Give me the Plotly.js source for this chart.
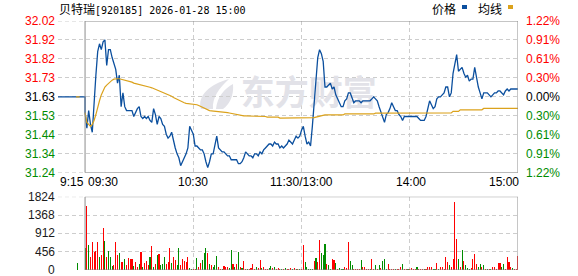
<!DOCTYPE html>
<html><head><meta charset="utf-8">
<script src="https://cdn.plot.ly/plotly-3.0.1.min.js"></script>
<style>html,body{margin:0;padding:0;background:#fff;}#chart{width:578px;height:276px;}</style>
</head><body><div id="chart"></div>
<script>
// ---------- data ----------
const titleName = '贝特瑞';
const titleCode = '[920185] 2026-01-28 15:00';
const legendPrice = '价格';
const legendAvg = '均线';
const watermarkText = '东方财富';
const prevClose = 31.63;
const maxPct = 1.22;
const priceTickLabels = ['32.02','31.92','31.82','31.73','31.63','31.53','31.44','31.34','31.24'];
const pctTickLabels = ['1.22%','0.91%','0.61%','0.30%','0.00%','0.30%','0.61%','0.91%','1.22%'];
const volTickVals = [0,456,912,1368,1824];
const volTickLabels = ['0','456','912','1368','1824'];
const timeTickLabels = ['9:15','09:30','10:30','11:30/13:00','14:00','15:00'];
const timeTickMinutes = [0,15,75,135,195,255];   // minutes after 9:15 on the compressed session axis
const preMinutes = [0,15];
const prePrice = [31.63,31.63];
const preAvgMinutes = [10,12];
const preAvg = [31.63,31.63];
const preVolMinutes = [11];
const preVolume = [166];
const preVolDir = [-1];
const sessionStart = 15; // 09:30 on the axis
const price = [
31.55,31.47,31.56,31.49,31.45,31.63,31.74,31.86,31.90,31.87,
31.91,31.92,31.79,31.87,31.87,31.83,31.80,31.77,31.70,31.74,
31.58,31.65,31.58,31.56,31.56,31.56,31.56,31.53,31.55,31.57,
31.58,31.53,31.52,31.53,31.52,31.53,31.51,31.50,31.57,31.54,
31.49,31.53,31.52,31.49,31.48,31.44,31.42,31.43,31.45,31.40,
31.37,31.34,31.32,31.28,31.30,31.32,31.34,31.37,31.48,31.46,
31.44,31.38,31.38,31.37,31.36,31.36,31.34,31.30,31.27,31.30,
31.34,31.34,31.38,31.43,31.37,31.36,31.35,31.35,31.34,31.33,
31.33,31.31,31.31,31.31,31.31,31.29,31.29,31.30,31.32,31.35,
31.34,31.33,31.33,31.32,31.34,31.34,31.33,31.35,31.34,31.36,
31.37,31.38,31.39,31.39,31.38,31.40,31.39,31.39,31.37,31.38,
31.37,31.38,31.39,31.41,31.40,31.39,31.41,31.43,31.42,31.43,
31.46,31.48,31.43,31.39,31.40,31.38,31.48,31.60,31.72,31.83,
31.87,31.85,31.81,31.68,31.68,31.69,31.70,31.67,31.68,31.64,
31.62,31.60,31.58,31.58,31.61,31.62,31.65,31.65,31.62,31.60,
31.61,31.61,31.61,31.60,31.61,31.61,31.61,31.61,31.61,31.62,
31.63,31.62,31.61,31.58,31.55,31.52,31.50,31.54,31.55,31.57,
31.60,31.58,31.56,31.56,31.54,31.53,31.51,31.53,31.53,31.53,
31.53,31.53,31.53,31.53,31.53,31.52,31.51,31.51,31.51,31.53,
31.57,31.61,31.59,31.57,31.58,31.62,31.63,31.63,31.64,31.65,
31.68,31.68,31.63,31.65,31.75,31.80,31.845,31.76,31.77,31.78,
31.75,31.73,31.74,31.71,31.72,31.72,31.78,31.72,31.68,31.65,
31.62,31.65,31.65,31.65,31.64,31.63,31.64,31.65,31.65,31.66,
31.66,31.65,31.64,31.66,31.67,31.66,31.67,31.67,31.67,31.67,
31.67];
const avgPrice = [
31.55,31.50,31.49,31.48,31.49,31.51,31.54,31.58,31.61,31.64,
31.66,31.68,31.69,31.70,31.71,31.715,31.72,31.722,31.722,31.722,
31.72,31.718,31.715,31.712,31.71,31.708,31.705,31.70,31.698,31.696,
31.693,31.69,31.688,31.686,31.684,31.681,31.679,31.676,31.672,31.668,
31.664,31.662,31.66,31.656,31.652,31.648,31.643,31.638,31.633,31.627,
31.622,31.617,31.612,31.607,31.603,31.60,31.597,31.596,31.595,31.594,
31.593,31.592,31.59,31.586,31.582,31.578,31.572,31.566,31.562,31.56,
31.559,31.558,31.558,31.557,31.556,31.556,31.555,31.555,31.552,31.55,
31.548,31.546,31.543,31.541,31.539,31.537,31.535,31.533,31.533,31.533,
31.533,31.533,31.533,31.533,31.533,31.53,31.53,31.53,31.53,31.53,
31.53,31.527,31.527,31.527,31.527,31.527,31.527,31.527,31.522,31.522,
31.522,31.522,31.522,31.522,31.522,31.522,31.522,31.522,31.522,31.522,
31.522,31.522,31.522,31.521,31.521,31.521,31.521,31.524,31.527,31.530,
31.533,31.535,31.538,31.538,31.538,31.538,31.538,31.538,31.538,31.538,
31.538,31.538,31.538,31.538,31.543,31.543,31.543,31.543,31.543,31.543,
31.543,31.543,31.543,31.543,31.543,31.543,31.543,31.543,31.543,31.543,
31.543,31.547,31.547,31.547,31.547,31.547,31.547,31.547,31.547,31.547,
31.547,31.547,31.547,31.547,31.547,31.547,31.547,31.547,31.547,31.547,
31.547,31.545,31.545,31.545,31.545,31.545,31.545,31.545,31.545,31.545,
31.545,31.548,31.548,31.548,31.548,31.548,31.548,31.548,31.548,31.548,
31.548,31.548,31.548,31.548,31.556,31.556,31.556,31.556,31.564,31.564,
31.564,31.564,31.564,31.564,31.564,31.564,31.564,31.564,31.564,31.564,
31.564,31.571,31.571,31.571,31.571,31.571,31.571,31.571,31.571,31.571,
31.571,31.571,31.571,31.571,31.571,31.571,31.571,31.571,31.571,31.571,
31.571];
const volume = [
540,1594,622,315,705,456,481,705,315,373,
1037,730,315,473,315,100,124,705,373,415,
207,207,266,124,290,266,266,100,207,83,
141,448,83,166,232,116,332,598,66,141,
373,398,124,141,315,141,207,548,166,315,
249,124,548,116,266,232,207,315,58,33,
33,33,290,83,166,249,415,540,432,149,
124,66,133,349,66,33,33,100,66,83,
58,498,149,83,149,448,66,41,232,33,
33,33,58,149,33,83,41,249,41,66,
33,33,41,100,41,66,33,41,33,33,
33,50,33,33,50,33,50,33,33,33,
33,622,199,66,33,33,33,232,290,199,
747,432,373,647,149,124,33,266,249,174,
33,50,33,33,83,41,705,224,124,33,
33,33,33,249,83,83,33,33,33,266,
33,124,33,124,41,224,266,33,149,33,
33,33,33,33,33,66,149,33,33,33,
33,41,33,33,66,33,33,33,33,33,
66,66,66,33,33,183,33,83,66,33,
315,199,124,66,266,1693,764,266,66,498,
232,124,50,33,41,266,390,141,66,141,
83,124,33,33,33,33,66,66,33,183,
183,83,149,33,315,207,83,50,33,33,
349];
const volDir = [
-1,1,-1,1,1,1,1,1,-1,1,
1,-1,1,-1,-1,-1,1,1,1,-1,
1,1,-1,1,1,1,1,-1,1,1,
-1,1,-1,1,1,1,-1,1,-1,1,
-1,1,-1,-1,-1,1,1,1,-1,1,
1,-1,-1,1,1,1,1,1,-1,-1,
1,1,-1,1,1,-1,-1,-1,1,-1,
1,-1,-1,-1,1,1,-1,1,1,1,
-1,-1,1,-1,1,-1,1,-1,1,1,
-1,1,1,1,1,-1,1,1,-1,1,
1,1,-1,-1,1,-1,1,1,1,-1,
1,-1,1,1,1,-1,1,-1,1,-1,
1,1,-1,-1,-1,-1,-1,1,-1,1,
1,-1,-1,-1,1,-1,-1,1,1,-1,
1,-1,-1,-1,1,1,1,-1,-1,1,
1,1,1,-1,1,1,1,1,-1,1,
1,-1,1,-1,1,-1,-1,-1,1,1,
1,1,-1,1,1,1,-1,1,1,-1,
1,1,1,1,-1,1,1,1,-1,1,
1,1,1,-1,-1,1,-1,1,1,1,
1,1,-1,1,1,1,1,-1,1,-1,
1,-1,-1,-1,1,1,1,1,-1,-1,
1,-1,1,-1,1,-1,1,1,1,1,
1,-1,-1,1,1,1,1,-1,1,1,
1];

// ---------- geometry / style ----------
const W = 578, H = 276, ML = 58, MR = 60, MT = 21, MB = 6;
const PW = W - ML - MR, PH = H - MT - MB;
const px2x = p => (p - ML) / PW;
const px2y = p => (H - MB - p) / PH;
const UP = '#ff0000', DOWN = '#008c00', FLAT = '#000000';
const GRID = '#cdcdcd', BORDER = '#8c8c8c';
const NUMFONT = 'Arial, "Liberation Sans", sans-serif';
const CJKFONT = '"Noto Sans CJK SC", "Noto Sans", sans-serif';
const MONOFONT = '"DejaVu Sans Mono", "Liberation Mono", monospace';

const minutes = price.map((_, i) => sessionStart + i);
const half = prevClose * maxPct / 100;
const priceLevels = priceTickLabels.map((_, i) => prevClose + half * (4 - i) / 4);
const labelColor = i => (i < 4 ? UP : i > 4 ? DOWN : FLAT);

const traces = [
  { // watermark (drawn first so lines pass over it)
    type: 'scatter', mode: 'text', x: [139], y: [prevClose + 0.004], text: [watermarkText],
    textfont: { family: CJKFONT, size: 34, color: '#e2e2e8', weight: 700 },
    xaxis: 'x', yaxis: 'y', hoverinfo: 'skip', showlegend: false
  },
  { type: 'scatter', mode: 'lines', x: preMinutes.concat(minutes), y: prePrice.concat(price),
    line: { color: '#0b4f9e', width: 1.3 }, xaxis: 'x', yaxis: 'y', hoverinfo: 'skip' },
  { type: 'scatter', mode: 'lines', x: preAvgMinutes, y: preAvg,
    line: { color: '#dba21c', width: 1.2 }, xaxis: 'x', yaxis: 'y', hoverinfo: 'skip' },
  { type: 'scatter', mode: 'lines', x: minutes, y: avgPrice,
    line: { color: '#dba21c', width: 1.2 }, xaxis: 'x', yaxis: 'y', hoverinfo: 'skip' },
  { type: 'bar', x: preVolMinutes.concat(minutes), y: preVolume.concat(volume),
    marker: { color: preVolDir.concat(volDir).map(d => d > 0 ? UP : DOWN), line: { width: 0 } },
    width: 0.6, xaxis: 'x2', yaxis: 'y2', hoverinfo: 'skip' }
];

const gridVals = [timeTickMinutes[0], timeTickMinutes[2], timeTickMinutes[3], timeTickMinutes[4]];
const xCommon = { range: [0, 255], tickvals: gridVals, showticklabels: false, ticks: '',
  showgrid: true, gridcolor: GRID, griddash: '4px,3px', gridwidth: 1, zeroline: false, showline: false, fixedrange: true };

const annotations = [];
annotations.push({ xref: 'paper', yref: 'paper', x: px2x(57), y: px2y(8),
  text: '<span style="font-family:\'Noto Sans CJK SC\';font-size:12px">' + titleName + '</span>' + titleCode,
  showarrow: false, xanchor: 'left', yanchor: 'middle', font: { family: MONOFONT, size: 10, color: '#000' } });
priceTickLabels.forEach((t, i) => {
  annotations.push({ xref: 'paper', yref: 'y', x: px2x(57), y: priceLevels[i], text: t, showarrow: false,
    xanchor: 'right', yanchor: 'middle', font: { family: NUMFONT, size: 12, color: labelColor(i) } });
  annotations.push({ xref: 'paper', yref: 'y', x: px2x(524), y: priceLevels[i], text: pctTickLabels[i], showarrow: false,
    xanchor: 'left', yanchor: 'middle', font: { family: NUMFONT, size: 12, color: labelColor(i) } });
});
volTickVals.forEach((v, i) => {
  annotations.push({ xref: 'paper', yref: 'y2', x: px2x(57), y: v, text: volTickLabels[i], showarrow: false,
    xanchor: 'right', yanchor: 'middle', font: { family: NUMFONT, size: 12, color: '#1a1a1a' } });
});
const timeAnchors = ['left', 'left', 'center', 'center', 'center', 'right'];
const timeOffsets = [0, 1, 0, 0, 1, 3];
timeTickLabels.forEach((t, i) => {
  const px = ML + timeTickMinutes[i] * PW / 255 + timeOffsets[i];
  annotations.push({ xref: 'paper', yref: 'paper', x: px2x(px), y: px2y(182), text: t, showarrow: false,
    xanchor: timeAnchors[i], yanchor: 'middle', font: { family: NUMFONT, size: 12, color: '#000' } });
});
annotations.push({ xref: 'paper', yref: 'paper', x: px2x(430), y: px2y(8), text: legendPrice, showarrow: false,
  xanchor: 'left', yanchor: 'middle', font: { family: CJKFONT, size: 12, color: '#000' } });
annotations.push({ xref: 'paper', yref: 'paper', x: px2x(476), y: px2y(8), text: legendAvg, showarrow: false,
  xanchor: 'left', yanchor: 'middle', font: { family: CJKFONT, size: 12, color: '#000' } });

const pp = (x, y) => px2x(x).toFixed(5) + ',' + px2y(y).toFixed(5);
const logoPath1 = 'M' + pp(201, 109) + ' C' + pp(197, 96) + ' ' + pp(210, 84) + ' ' + pp(229, 79) +
  ' C' + pp(219, 88) + ' ' + pp(212, 98) + ' ' + pp(213, 109) + ' Z';
const logoPath2 = 'M' + pp(216, 109) + ' C' + pp(217, 97) + ' ' + pp(225, 88) + ' ' + pp(233, 84) +
  ' C' + pp(234, 95) + ' ' + pp(230, 104) + ' ' + pp(223, 109) + ' Z';

const shapes = [
  { type: 'rect', xref: 'x', yref: 'y', x0: sessionStart, x1: 255, y0: priceLevels[8], y1: priceLevels[0],
    line: { color: BORDER, width: 1 }, layer: 'above' },
  { type: 'rect', xref: 'x2', yref: 'y2', x0: sessionStart, x1: 255, y0: 0, y1: volTickVals[4],
    line: { color: BORDER, width: 1 }, layer: 'above' },
  { type: 'line', xref: 'x', yref: 'y', x0: 0, x1: sessionStart, y0: priceLevels[0], y1: priceLevels[0],
    line: { color: GRID, width: 1, dash: '4px,3px' } },
  { type: 'line', xref: 'x', yref: 'y', x0: 0, x1: sessionStart, y0: priceLevels[8], y1: priceLevels[8],
    line: { color: GRID, width: 1, dash: '4px,3px' } },
  { type: 'line', xref: 'x2', yref: 'y2', x0: 0, x1: sessionStart, y0: volTickVals[4], y1: volTickVals[4],
    line: { color: GRID, width: 1, dash: '4px,3px' } },
  { type: 'rect', xref: 'paper', yref: 'paper', x0: px2x(462), x1: px2x(467), y0: px2y(9), y1: px2y(5),
    fillcolor: '#0b4f9e', line: { width: 0 } },
  { type: 'rect', xref: 'paper', yref: 'paper', x0: px2x(508), x1: px2x(513), y0: px2y(9), y1: px2y(5),
    fillcolor: '#dba21c', line: { width: 0 } },
  { type: 'path', xref: 'paper', yref: 'paper', path: logoPath1, fillcolor: '#e2e2e8', line: { width: 0 }, layer: 'below' },
  { type: 'path', xref: 'paper', yref: 'paper', path: logoPath2, fillcolor: '#e2e2e8', line: { width: 0 }, layer: 'below' }
];

const layout = {
  width: W, height: H, margin: { l: ML, r: MR, t: MT, b: MB, pad: 0 },
  paper_bgcolor: '#fff', plot_bgcolor: '#fff', showlegend: false, hovermode: false,
  xaxis: Object.assign({ anchor: 'y' }, xCommon),
  xaxis2: Object.assign({ anchor: 'y2' }, xCommon),
  yaxis: { domain: [px2y(172.7), 1], range: [priceLevels[8], priceLevels[0]], tickvals: priceLevels,
    showticklabels: false, ticks: '', showgrid: true, gridcolor: GRID, griddash: '4px,3px',
    zeroline: false, showline: false, fixedrange: true },
  yaxis2: { domain: [0, px2y(196.7)], range: [0, volTickVals[4]], tickvals: volTickVals,
    showticklabels: false, ticks: '', showgrid: true, gridcolor: GRID, griddash: '4px,3px',
    zeroline: false, showline: false, fixedrange: true },
  bargap: 0, annotations: annotations, shapes: shapes
};

Plotly.newPlot('chart', traces, layout, { staticPlot: true, displayModeBar: false });
</script>
</body></html>
